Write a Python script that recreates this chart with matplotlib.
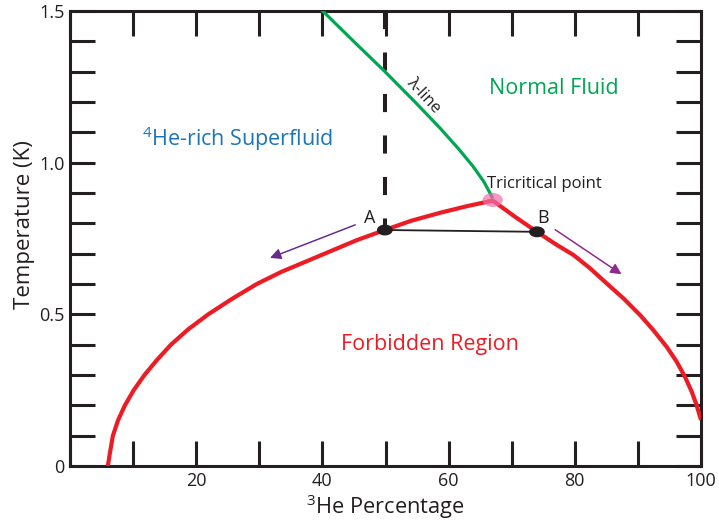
import matplotlib.pyplot as plt
from matplotlib.patches import Ellipse

# values
left_x = [6.0, 6.3, 6.8, 7.6, 8.7, 10.1, 11.8, 13.8, 16.0, 18.7, 21.9, 25.6, 29.6, 33.5,
          37.5, 41.5, 45.5, 49.9]
left_t = [0.0, 0.04, 0.10, 0.15, 0.20, 0.25, 0.30, 0.35, 0.40, 0.45, 0.50, 0.55, 0.60, 0.64,
          0.675, 0.71, 0.745, 0.778]
top_x = [49.9, 54.0, 58.7, 63.0, 67.0]
top_t = [0.778, 0.808, 0.835, 0.857, 0.875]
right_x = [67.0, 70.5, 74.0, 77.13, 79.77, 82.41, 85.05, 87.69, 90.33, 92.44, 94.56, 96.14,
           97.46, 98.53, 99.3, 99.84, 100.0]
right_t = [0.875, 0.822, 0.772, 0.729, 0.696, 0.652, 0.602, 0.553, 0.498, 0.448, 0.393, 0.344,
           0.294, 0.245, 0.201, 0.163, 0.152]
lambda_x = [40.05, 45.0, 49.92, 54.68, 58.64, 61.6, 63.9, 65.6, 66.88]
lambda_t = [1.50, 1.399, 1.300, 1.200, 1.114, 1.045, 0.987, 0.937, 0.887]
point_a = (49.9, 0.778)
point_b = (74.0, 0.772)
tricritical = (67.0, 0.877)

x_ticks = list(range(0, 101, 10))
x_labels = ['', '', '20', '', '40', '', '60', '', '80', '', '100']
y_ticks = [i / 10 for i in range(16)]
y_labels = ['0', '', '', '', '', '0.5', '', '', '', '', '1.0', '', '', '', '', '1.5']

plt.rcParams['font.family'] = ['Open Sans', 'DejaVu Sans']
plt.rcParams['mathtext.fontset'] = 'custom'
plt.rcParams['mathtext.rm'] = 'Open Sans'

ink = '#231f20'
red = '#ed1c24'
green = '#00a651'
blue = '#1b75bc'

fig = plt.figure(figsize=(7.19, 5.24), dpi=100)
ax = fig.add_axes([70 / 719, 58 / 524, 631 / 719, 455 / 524])

# dashed vertical through A
ax.plot([point_a[0], point_a[0]], [1.5, point_a[1]], color=ink, lw=2.9,
        dashes=(4.5, 5.8), solid_capstyle='butt', dash_capstyle='butt', zorder=2)

ax.plot(lambda_x, lambda_t, color=green, lw=2.3, solid_joinstyle='round', zorder=3)
ax.plot(left_x + top_x[1:] + right_x[1:], left_t + top_t[1:] + right_t[1:],
        color=red, lw=3.0, solid_capstyle='butt', solid_joinstyle='round', zorder=3)
ax.plot([point_a[0], point_b[0]], [point_a[1], point_b[1]], color=ink, lw=1.3, zorder=4)

ax.add_patch(Ellipse(tricritical, 3.2, 0.046, color='#f06eaa', alpha=0.7, lw=0, zorder=5))
for p in (point_a, point_b):
    ax.add_patch(Ellipse(p, 2.5, 0.036, color=ink, lw=0, zorder=6))

ax.annotate('', xy=(31.7, 0.686), xytext=(45.2, 0.795),
            arrowprops=dict(arrowstyle='-|>', color='#662d91', lw=1.1,
                            mutation_scale=16, shrinkA=0, shrinkB=0))
ax.annotate('', xy=(87.4, 0.632), xytext=(76.9, 0.779),
            arrowprops=dict(arrowstyle='-|>', color='#92278f', lw=1.1,
                            mutation_scale=16, shrinkA=0, shrinkB=0))

ax.text(26.6, 1.08, r'$^4$He-rich Superfluid', color=blue, fontsize=15.5,
        ha='center', va='center')
ax.text(76.6, 1.245, 'Normal Fluid', color=green, fontsize=15.5, ha='center', va='center')
ax.text(57.0, 0.40, 'Forbidden Region', color=red, fontsize=15.5, ha='center', va='center')
ax.text(66.1, 0.93, 'Tricritical point', color=ink, fontsize=12, ha='left', va='center')
ax.text(47.5, 0.818, 'A', color=ink, fontsize=13, ha='center', va='center')
ax.text(75.0, 0.818, 'B', color=ink, fontsize=13, ha='center', va='center')
ax.text(56.0, 1.222, 'λ-line', color=ink, fontsize=12, rotation=-47,
        ha='center', va='center')

ax.set_xlim(0, 100)
ax.set_ylim(0, 1.5)
ax.set_xticks(x_ticks)
ax.set_xticklabels(x_labels)
ax.set_yticks(y_ticks)
ax.set_yticklabels(y_labels)
ax.tick_params(direction='in', length=18, width=2.2, color=ink, labelcolor=ink,
               labelsize=13, top=True, right=True, pad=4)
for s in ax.spines.values():
    s.set_linewidth(2.2)
    s.set_color(ink)

ax.set_xlabel(r'$^3$He Percentage', fontsize=15.7, color=ink, labelpad=2)
ax.set_ylabel('Temperature (K)', fontsize=16, color=ink)
ax.yaxis.set_label_coords(-0.055, 0.53)

fig.savefig('out.png', dpi=100)
